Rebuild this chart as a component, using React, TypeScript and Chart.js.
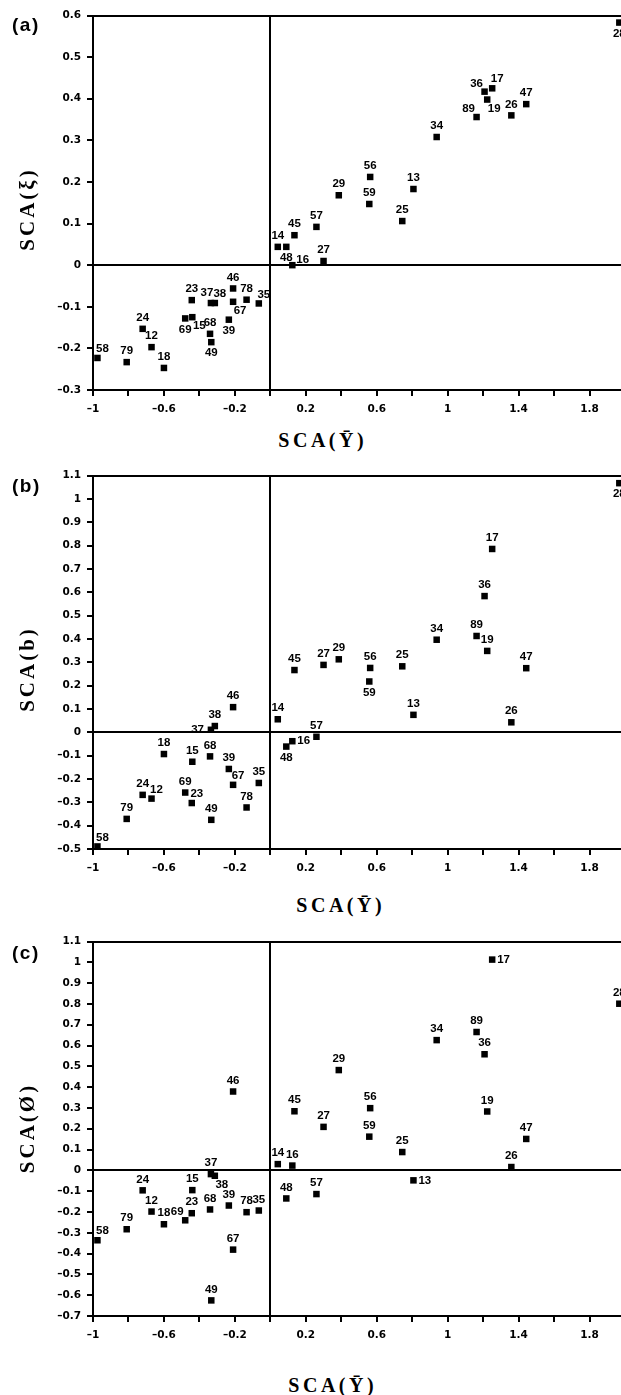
import React, { useEffect, useRef } from "react";
import { Chart, registerables } from "chart.js";
Chart.register(...registerables);

// ---------------- DATA ----------------
const genotypes = [
  "58", "79", "24", "12", "18", "69", "15", "23", "37", "38", "68", "49",
  "39", "46", "67", "78", "35", "14", "48", "16", "45", "57", "27", "29",
  "56", "59", "25", "13", "34", "89", "36", "19", "17", "26", "47", "28",
];

// SCA(Ybar) – shared x values
const scaYbar = [
  -0.975, -0.81, -0.72, -0.67, -0.6, -0.48, -0.44, -0.443, -0.335, -0.313, -0.34, -0.333,
  -0.234, -0.21, -0.21, -0.134, -0.065, 0.042, 0.09, 0.124, 0.136, 0.26, 0.3, 0.386,
  0.563, 0.558, 0.744, 0.807, 0.938, 1.163, 1.208, 1.223, 1.251, 1.359, 1.443, 1.968,
];

// (a) SCA(xi)
const scaXi = [
  -0.223, -0.233, -0.153, -0.197, -0.247, -0.128, -0.125, -0.084, -0.091, -0.091, -0.165, -0.185,
  -0.131, -0.056, -0.088, -0.083, -0.092, 0.044, 0.044, 0.0, 0.072, 0.092, 0.01, 0.168,
  0.212, 0.147, 0.106, 0.183, 0.308, 0.356, 0.417, 0.398, 0.425, 0.36, 0.387, 0.583,
];

// (b) SCA(b)
const scaB = [
  -0.489, -0.371, -0.268, -0.284, -0.093, -0.258, -0.126, -0.303, 0.011, 0.027, -0.103, -0.375,
  -0.157, 0.108, -0.225, -0.322, -0.217, 0.056, -0.061, -0.038, 0.267, -0.019, 0.289, 0.313,
  0.276, 0.218, 0.283, 0.075, 0.397, 0.413, 0.584, 0.349, 0.786, 0.043, 0.275, 1.068,
];

// (c) SCA(phi)
const scaPhi = [
  -0.336, -0.283, -0.096, -0.198, -0.259, -0.24, -0.095, -0.206, -0.018, -0.026, -0.188, -0.625,
  -0.169, 0.379, -0.381, -0.201, -0.193, 0.03, -0.135, 0.023, 0.284, -0.114, 0.209, 0.482,
  0.299, 0.162, 0.088, -0.048, 0.626, 0.665, 0.558, 0.283, 1.013, 0.016, 0.151, 0.801,
];

// label placement codes for each genotype, per panel
const labelPosA = [
  "ar", "a", "a", "a", "a", "b", "br", "a", "al2", "ar", "a", "b",
  "b", "a", "br", "a", "ar", "a", "b", "ru", "a", "a", "a", "a",
  "a", "a", "a", "a", "a", "al", "al", "br", "ar", "a", "a", "b",
];
const labelPosB = [
  "ar", "a", "a", "ar", "a", "a", "a", "ar", "l", "a", "a", "a",
  "a", "a", "ar", "a", "a", "a", "b", "r", "a", "a", "a", "a",
  "a", "b", "a", "a", "a", "a", "a", "a", "a", "a", "a", "b",
];
const labelPosC = [
  "ar", "a", "a", "a", "a", "al", "a", "a", "a", "br", "a", "a",
  "a", "a", "a", "a", "a", "a", "a", "a", "a", "a", "a", "a",
  "a", "a", "a", "r", "a", "a", "a", "a", "r", "a", "a", "a",
];

// tick labels
const xLabeledTicks = [-1, -0.6, -0.2, 0.2, 0.6, 1, 1.4, 1.8];
const yTicksA = [-0.3, -0.2, -0.1, 0, 0.1, 0.2, 0.3, 0.4, 0.5, 0.6];
const yTicksB = [-0.5, -0.4, -0.3, -0.2, -0.1, 0, 0.1, 0.2, 0.3, 0.4, 0.5, 0.6, 0.7, 0.8, 0.9, 1, 1.1];
const yTicksC = [-0.7, -0.6, -0.5, -0.4, -0.3, -0.2, -0.1, 0, 0.1, 0.2, 0.3, 0.4, 0.5, 0.6, 0.7, 0.8, 0.9, 1, 1.1];

// ---------------- HELPERS ----------------
const fmt = (v: number) => {
  const r = Math.round(v * 10) / 10;
  const s = String(Math.abs(r));
  return r < 0 ? "\u2013" + s : s;
};

const offsets: Record<string, [number, number, CanvasTextAlign]> = {
  a: [0, -11, "center"],
  b: [0, 11, "center"],
  r: [5, 0, "left"],
  l: [-7, 0, "right"],
  ar: [5, -9, "center"],
  al: [-8, -8, "center"],
  al2: [-4, -10, "center"],
  br: [7, 9, "center"],
  ru: [4, -5, "left"],
};

function makeLabelPlugin(positions: string[]) {
  return {
    id: "pointLabels",
    afterDatasetsDraw(chart: any) {
      const meta = chart.getDatasetMeta(0);
      const ctx = chart.ctx;
      ctx.save();
      ctx.fillStyle = "#000";
      ctx.font = "bold 11.5px 'Liberation Sans', Arial, sans-serif";
      ctx.textBaseline = "middle";
      meta.data.forEach((el: any, i: number) => {
        const [dx, dy, align] = offsets[positions[i]] || offsets.a;
        ctx.textAlign = align;
        ctx.fillText(genotypes[i], el.x + dx, el.y + dy);
      });
      ctx.restore();
    },
  };
}

type PanelDef = {
  letter: string;
  yValues: number[];
  yTicks: number[];
  labelPos: string[];
  top: number;
  height: number;
  padTop: number;
  yTitle: string;
  letterCy: number;
  yTitleCy: number;
  xTitleCx: number;
  xTitleCy: number;
};

const panels: PanelDef[] = [
  { letter: "(a)", yValues: scaXi, yTicks: yTicksA, labelPos: labelPosA, top: 0, height: 415, padTop: 15.5, yTitle: "SCA(\u03BE)", letterCy: 25, yTitleCy: 210, xTitleCx: 321, xTitleCy: 440 },
  { letter: "(b)", yValues: scaB, yTicks: yTicksB, labelPos: labelPosB, top: 460, height: 414, padTop: 15.7, yTitle: "SCA(b)", letterCy: 486.5, yTitleCy: 670, xTitleCx: 339, xTitleCy: 905 },
  { letter: "(c)", yValues: scaPhi, yTicks: yTicksC, labelPos: labelPosC, top: 926, height: 415, padTop: 15.5, yTitle: "SCA(\u00D8)", letterCy: 953.5, yTitleCy: 1129, xTitleCx: 331, xTitleCy: 1385 },
];

const tickFont = { family: "'DejaVu Sans', sans-serif", size: 10.5, weight: "bold" as const };

function ScatterPanel({ p }: { p: PanelDef }) {
  const ref = useRef<HTMLCanvasElement>(null);
  useEffect(() => {
    if (!ref.current) return;
    const yMin = p.yTicks[0];
    const yMax = p.yTicks[p.yTicks.length - 1];
    const chart = new Chart(ref.current, {
      type: "scatter",
      data: {
        datasets: [
          {
            data: scaYbar.map((x, i) => ({ x, y: p.yValues[i] })),
            pointStyle: "rect",
            pointRadius: 4.6,
            pointBorderWidth: 0,
            backgroundColor: "#000",
            borderColor: "#000",
            clip: false as any,
          },
        ],
      },
      plugins: [makeLabelPlugin(p.labelPos)],
      options: {
        animation: false,
        responsive: false,
        devicePixelRatio: 1,
        events: [],
        layout: { padding: { left: 48, right: 15, top: p.padTop, bottom: 0 } },
        plugins: { legend: { display: false }, tooltip: { enabled: false } },
        scales: {
          x: {
            type: "linear",
            min: -1,
            max: 2,
            afterFit: (s: any) => { s.height = 25; },
            ticks: {
              stepSize: 0.2,
              autoSkip: false,
              maxRotation: 0,
              color: "#000",
              padding: 7,
              font: tickFont,
              callback: (v: any) => {
                const val = Number(v);
                return xLabeledTicks.some((t) => Math.abs(t - val) < 1e-6) ? fmt(val) : "";
              },
            },
            grid: {
              color: (c: any) => (c.tick && Math.abs(c.tick.value) < 1e-9 ? "#000" : "rgba(0,0,0,0)"),
              lineWidth: 2,
              tickColor: "#000",
              tickLength: 6,
              tickWidth: 2,
            },
            border: { display: true, color: "#000", width: 2 },
          },
          y: {
            type: "linear",
            min: yMin,
            max: yMax,
            afterFit: (s: any) => { s.width = 45; },
            ticks: {
              stepSize: 0.1,
              autoSkip: false,
              color: "#000",
              padding: 6,
              font: tickFont,
              callback: (v: any) => {
                const val = Number(v);
                return p.yTicks.some((t) => Math.abs(t - val) < 1e-6) ? fmt(val) : "";
              },
            },
            grid: {
              color: (c: any) =>
                c.tick && (Math.abs(c.tick.value) < 1e-9 || Math.abs(c.tick.value - yMax) < 1e-9)
                  ? "#000"
                  : "rgba(0,0,0,0)",
              lineWidth: 2,
              tickColor: "#000",
              tickLength: 6,
              tickWidth: 2,
            },
            border: { display: true, color: "#000", width: 2 },
          },
        },
      } as any,
    });
    return () => chart.destroy();
  }, []);
  return (
    <canvas
      ref={ref}
      width={640}
      height={p.height}
      style={{ position: "absolute", left: 0, top: p.top, width: 640, height: p.height }}
    />
  );
}

const serif = "'Liberation Serif', 'DejaVu Serif', serif";

export default function App() {
  return (
    <div
      style={{
        position: "absolute",
        left: 0,
        top: 0,
        width: 621,
        height: 1395,
        overflow: "hidden",
        background: "#fff",
      }}
    >
      {panels.map((p) => (
        <React.Fragment key={p.letter}>
          <ScatterPanel p={p} />
          <div
            style={{
              position: "absolute",
              left: 12,
              top: p.letterCy - 10.5,
              font: "bold 19px 'Liberation Sans', Arial, sans-serif",
              letterSpacing: "1.5px",
              lineHeight: 1,
              color: "#000",
            }}
          >
            {p.letter}
          </div>
          <div
            style={{
              position: "absolute",
              left: 27 - 80,
              top: p.yTitleCy - 10.5,
              width: 160,
              height: 21,
              textAlign: "center",
              font: `bold 21px ${serif}`,
              letterSpacing: "3px",
              paddingLeft: 3,
              boxSizing: "border-box",
              lineHeight: 1,
              transform: "rotate(-90deg)",
              whiteSpace: "nowrap",
              color: "#000",
            }}
          >
            {p.yTitle}
          </div>
          <div
            style={{
              position: "absolute",
              left: p.xTitleCx - 100,
              top: p.xTitleCy - 10,
              width: 200,
              textAlign: "center",
              font: `bold 20px ${serif}`,
              letterSpacing: "3.5px",
              paddingLeft: 3.5,
              boxSizing: "border-box",
              lineHeight: 1,
              whiteSpace: "nowrap",
              color: "#000",
            }}
          >
            {"SCA(\u0232)"}
          </div>
        </React.Fragment>
      ))}
    </div>
  );
}
